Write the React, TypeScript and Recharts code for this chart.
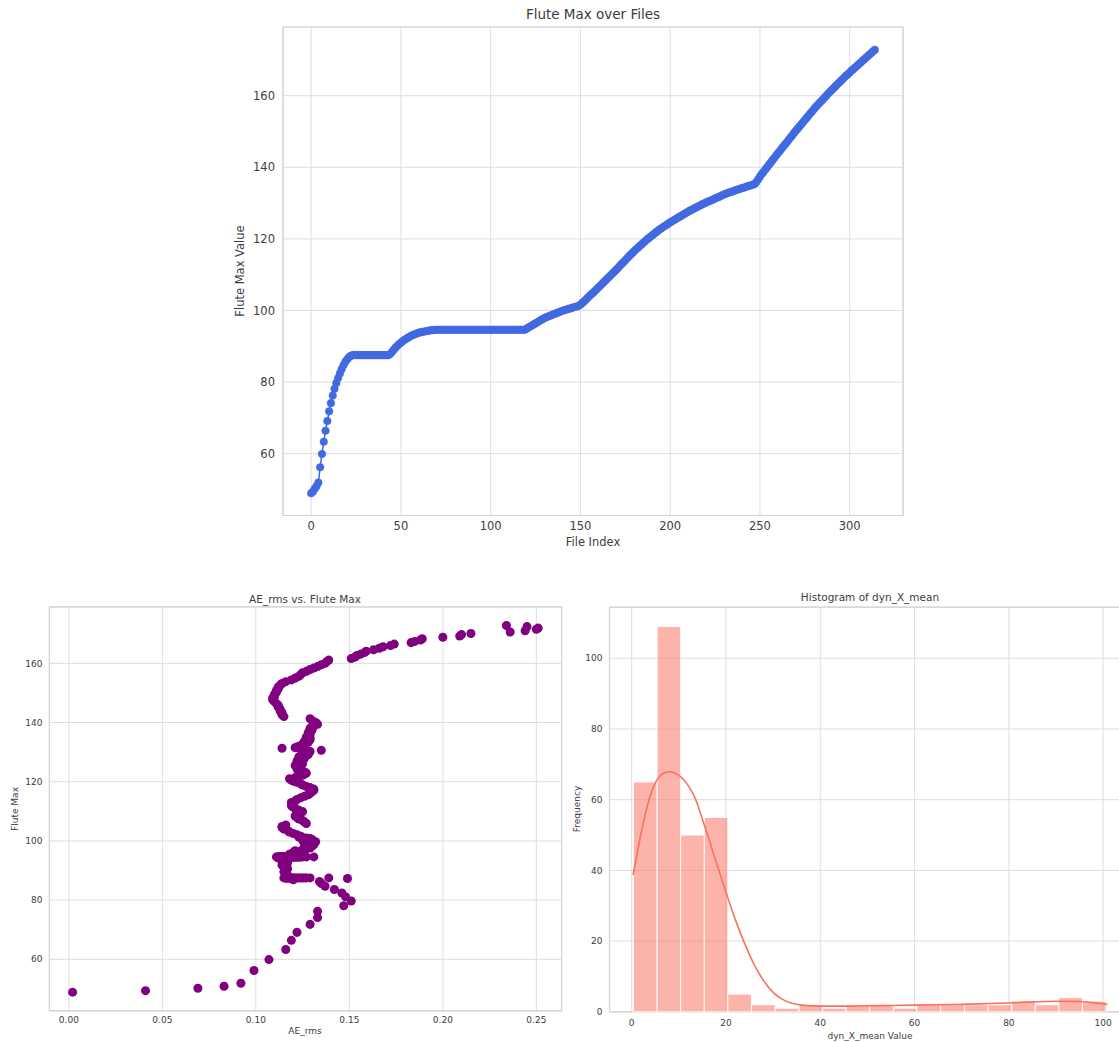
import React from 'react';
import {
  LineChart, Line, ScatterChart, Scatter, ComposedChart, XAxis, YAxis, ZAxis,
  CartesianGrid, ReferenceArea,
} from 'recharts';

// flute max per file, in file order (index 0..314)
const fluteMax = [
  48.9, 49.4, 50.2, 50.9, 51.9, 56.2, 59.9, 63.3, 66.4, 69.1,
  71.8, 74.1, 76.2, 78.1, 79.7, 81.1, 82.4, 83.6, 84.7, 85.6,
  86.3, 86.9, 87.3, 87.5, 87.5, 87.5, 87.5, 87.5, 87.5, 87.5,
  87.5, 87.5, 87.5, 87.5, 87.5, 87.5, 87.5, 87.5, 87.5, 87.5,
  87.5, 87.5, 87.5, 87.5, 87.8, 88.4, 89.0, 89.6, 90.1, 90.6,
  91.0, 91.4, 91.8, 92.1, 92.4, 92.7, 93.0, 93.2, 93.4, 93.6,
  93.8, 93.9, 94.0, 94.1, 94.2, 94.3, 94.4, 94.5, 94.5, 94.6,
  94.6, 94.6, 94.6, 94.6, 94.6, 94.6, 94.6, 94.6, 94.6, 94.6,
  94.6, 94.6, 94.6, 94.6, 94.6, 94.6, 94.6, 94.6, 94.6, 94.6,
  94.6, 94.6, 94.6, 94.6, 94.6, 94.6, 94.6, 94.6, 94.6, 94.6,
  94.6, 94.6, 94.6, 94.6, 94.6, 94.6, 94.6, 94.6, 94.6, 94.6,
  94.6, 94.6, 94.6, 94.6, 94.6, 94.6, 94.6, 94.6, 94.6, 94.6,
  94.9, 95.2, 95.5, 95.8, 96.1, 96.4, 96.7, 97.0, 97.3, 97.6,
  97.9, 98.1, 98.3, 98.5, 98.7, 98.9, 99.1, 99.3, 99.5, 99.7,
  99.9, 100.1, 100.2, 100.4, 100.5, 100.7, 100.8, 101.0, 101.1, 101.3,
  101.6, 102.1, 102.5, 103.0, 103.5, 104.0, 104.5, 104.9, 105.4, 105.9,
  106.4, 106.9, 107.4, 107.9, 108.4, 108.9, 109.4, 109.9, 110.4, 110.9,
  111.4, 111.9, 112.5, 113.0, 113.5, 114.0, 114.6, 115.1, 115.6, 116.1,
  116.6, 117.1, 117.5, 118.0, 118.4, 118.9, 119.3, 119.8, 120.2, 120.6,
  121.0, 121.4, 121.8, 122.2, 122.6, 122.9, 123.3, 123.6, 123.9, 124.3,
  124.6, 124.9, 125.2, 125.5, 125.8, 126.1, 126.4, 126.7, 127.0, 127.3,
  127.6, 127.9, 128.1, 128.4, 128.7, 128.9, 129.2, 129.4, 129.7, 129.9,
  130.2, 130.4, 130.6, 130.8, 131.0, 131.3, 131.5, 131.7, 131.9, 132.2,
  132.4, 132.6, 132.8, 133.0, 133.1, 133.3, 133.5, 133.7, 133.8, 134.0,
  134.2, 134.3, 134.5, 134.7, 134.8, 135.0, 135.1, 135.3, 135.9, 136.6,
  137.4, 138.1, 138.7, 139.4, 140.0, 140.7, 141.3, 142.0, 142.6, 143.3,
  143.9, 144.5, 145.2, 145.8, 146.4, 147.0, 147.7, 148.3, 148.9, 149.6,
  150.2, 150.8, 151.4, 152.0, 152.6, 153.2, 153.8, 154.4, 155.0, 155.6,
  156.2, 156.8, 157.3, 157.9, 158.4, 158.9, 159.5, 160.0, 160.6, 161.1,
  161.6, 162.1, 162.6, 163.1, 163.6, 164.1, 164.6, 165.1, 165.6, 166.0,
  166.5, 167.0, 167.4, 167.9, 168.3, 168.8, 169.2, 169.7, 170.1, 170.6,
  171.0, 171.5, 171.9, 172.4, 172.8,
];

// AE_rms for the same files, same order
const aeRms = [
  0.002, 0.041, 0.069, 0.083, 0.092, 0.099, 0.107, 0.116, 0.119, 0.122,
  0.129, 0.133, 0.133, 0.147, 0.151, 0.148, 0.146, 0.142, 0.137, 0.135,
  0.134, 0.120, 0.149, 0.139, 0.129, 0.127, 0.125, 0.123, 0.122, 0.121,
  0.120, 0.119, 0.118, 0.117, 0.116, 0.116, 0.117, 0.118, 0.119, 0.124,
  0.126, 0.116, 0.117, 0.115, 0.116, 0.117, 0.116, 0.115, 0.116, 0.117,
  0.116, 0.115, 0.114, 0.115, 0.116, 0.117, 0.116, 0.115, 0.114, 0.115,
  0.116, 0.115, 0.114, 0.113, 0.112, 0.113, 0.114, 0.115, 0.116, 0.117,
  0.111, 0.112, 0.113, 0.114, 0.115, 0.116, 0.117, 0.118, 0.119, 0.120,
  0.121, 0.122, 0.123, 0.124, 0.125, 0.127, 0.131, 0.112, 0.114, 0.116,
  0.118, 0.120, 0.122, 0.124, 0.113, 0.115, 0.117, 0.119, 0.121, 0.123,
  0.112, 0.114, 0.116, 0.118, 0.120, 0.122, 0.113, 0.115, 0.117, 0.119,
  0.121, 0.114, 0.116, 0.118, 0.120, 0.115, 0.117, 0.119, 0.116, 0.118,
  0.119, 0.121, 0.118, 0.122, 0.120, 0.123, 0.121, 0.125, 0.127, 0.129,
  0.126, 0.128, 0.130, 0.127, 0.131, 0.129, 0.126, 0.128, 0.130, 0.132,
  0.127, 0.129, 0.125, 0.128, 0.130, 0.126, 0.129, 0.127, 0.125, 0.123,
  0.124, 0.122, 0.120, 0.118, 0.117, 0.115, 0.114, 0.114, 0.116, 0.127,
  0.126, 0.125, 0.123, 0.122, 0.121, 0.123, 0.124, 0.125, 0.123, 0.121,
  0.120, 0.119, 0.120, 0.119, 0.121, 0.122, 0.124, 0.126, 0.128, 0.129,
  0.130, 0.131, 0.131, 0.129, 0.127, 0.125, 0.124, 0.122, 0.120, 0.119,
  0.118, 0.121, 0.123, 0.125, 0.126, 0.127, 0.126, 0.124, 0.123, 0.122,
  0.123, 0.124, 0.122, 0.121, 0.123, 0.125, 0.124, 0.123, 0.122, 0.124,
  0.125, 0.126, 0.124, 0.123, 0.125, 0.127, 0.128, 0.126, 0.125, 0.127,
  0.129, 0.128, 0.135, 0.126, 0.124, 0.114, 0.121, 0.122, 0.123, 0.124,
  0.125, 0.126, 0.125, 0.127, 0.126, 0.128, 0.127, 0.126, 0.128, 0.127,
  0.129, 0.128, 0.127, 0.128, 0.129, 0.128, 0.127, 0.128, 0.129, 0.128,
  0.130, 0.129, 0.131, 0.133, 0.132, 0.130, 0.129, 0.115, 0.114, 0.114,
  0.113, 0.113, 0.112, 0.112, 0.111, 0.110, 0.109, 0.109, 0.110, 0.110,
  0.111, 0.111, 0.112, 0.112, 0.113, 0.114, 0.116, 0.119, 0.121, 0.123,
  0.124, 0.125, 0.127, 0.129, 0.131, 0.133, 0.135, 0.137, 0.138, 0.139,
  0.151, 0.153, 0.154, 0.156, 0.158, 0.159, 0.163, 0.166, 0.168, 0.172,
  0.174, 0.183, 0.185, 0.188, 0.189, 0.200, 0.209, 0.210, 0.215, 0.236,
  0.244, 0.250, 0.251, 0.245, 0.234,
];

// histogram of dyn_X_mean
const binEdges = [
  0.35, 5.4, 10.4, 15.4, 20.4, 25.4, 30.4, 35.5, 40.5, 45.5, 50.5,
  55.5, 60.5, 65.5, 70.6, 75.6, 80.6, 85.6, 90.6, 95.6, 100.6,
];
const binCounts = [65, 109, 50, 55, 5, 2, 1, 2, 1, 2, 2, 1, 2, 2, 2, 2, 3, 2, 4, 3];

// kde curve (scaled to counts)
const kdeX = [
  0.3, 1.0, 2.0, 3.0, 4.0, 5.0, 6.0, 7.0, 8.3, 9.5, 10.5, 11.5, 12.5, 13.5,
  15.0, 16.5, 18.0, 20.0, 22.0, 24.0, 26.0, 28.0, 30.0, 32.0, 34.0, 36.0,
  40.0, 45.0, 50.0, 55.0, 60.0, 65.0, 70.0, 75.0, 80.0, 85.0, 90.0, 95.0, 98.0, 100.9,
];
const kdeY = [
  38.7, 43.5, 50.5, 56.5, 61.3, 64.7, 66.7, 67.6, 67.9, 67.3, 66.4, 64.9, 62.9, 60.3,
  54.5, 48.4, 42.0, 33.8, 26.0, 19.2, 13.3, 8.8, 5.5, 3.5, 2.4, 1.9,
  1.6, 1.6, 1.7, 1.8, 1.9, 2.0, 2.1, 2.3, 2.5, 2.8, 3.0, 2.9, 2.6, 2.1,
];

const fileTicks = [0, 50, 100, 150, 200, 250, 300];
const fluteTicks = [60, 80, 100, 120, 140, 160];
const rmsTicks = [0, 0.05, 0.1, 0.15, 0.2, 0.25];
const dynTicks = [0, 20, 40, 60, 80, 100];
const freqTicks = [0, 20, 40, 60, 80, 100];

const lineRows = fluteMax.map((v, i) => ({ idx: i, flute: v }));
const scatterRows = fluteMax.map((v, i) => ({ ae: aeRms[i], flute: v }));
const kdeRows = kdeX.map((x, i) => ({ x, y: kdeY[i] }));

const FONT = '"DejaVu Sans", sans-serif';
const TXT = '#3c3c3c';
const GRID = '#dedede';
const SPINE = '#d2d2d2';

const Txt: React.FC<{ x: number; y: number; size: number; rotate?: boolean; children: React.ReactNode }> = ({ x, y, size, rotate, children }) => (
  <div style={{
    position: 'absolute', left: x, top: y, fontSize: size, color: TXT, whiteSpace: 'nowrap',
    transform: `translate(-50%, -50%)${rotate ? ' rotate(-90deg)' : ''}`, lineHeight: 1,
  }}>{children}</div>
);

export default function App() {
  const topX: [number, number] = [-15.7, 329.7];
  const topY: [number, number] = [42.7, 179.2];
  const scX: [number, number] = [-0.0104, 0.2635];
  const scY: [number, number] = [42.6, 179.1];
  const hX: [number, number] = [-4.7, 105.9];
  const hY: [number, number] = [0, 114.45];

  return (
    <div style={{ position: 'fixed', left: 0, top: 0, width: 1119, height: 1042, overflow: 'hidden', background: '#fff', fontFamily: FONT }}>
      {/* top: line over files */}
      <div style={{ position: 'absolute', left: 0, top: 0 }}>
        <LineChart width={1119} height={560} data={lineRows} margin={{ top: 27, right: 216, bottom: 0, left: 223 }}>
          <CartesianGrid stroke={GRID} strokeWidth={1} />
          <XAxis dataKey="idx" type="number" domain={topX} ticks={fileTicks} allowDataOverflow
            tickLine={false} axisLine={false} tickSize={0} tickMargin={6} height={44.5}
            tick={{ fill: TXT, fontSize: 11.5, fontFamily: FONT }} />
          <YAxis type="number" domain={topY} ticks={fluteTicks} allowDataOverflow
            tickLine={false} axisLine={false} tickSize={0} tickMargin={8} width={60}
            tick={{ fill: TXT, fontSize: 11.5, fontFamily: FONT }} />
          <ReferenceArea x1={topX[0]} x2={topX[1]} y1={topY[0]} y2={topY[1]} fill="none" stroke={SPINE} strokeWidth={1.2} ifOverflow="visible" />
          <Line dataKey="flute" stroke="#4169E1" strokeWidth={1.5} isAnimationActive={false}
            dot={{ r: 3.8, fill: '#4169E1', stroke: '#4169E1', strokeWidth: 0.5 }} activeDot={false} />
        </LineChart>
      </div>
      <Txt x={593} y={15} size={13.5}>Flute Max over Files</Txt>
      <Txt x={593} y={543} size={11.5}>File Index</Txt>
      <Txt x={241} y={271} size={11.5} rotate>Flute Max Value</Txt>

      {/* bottom left: scatter */}
      <div style={{ position: 'absolute', left: 0, top: 580 }}>
        <ScatterChart width={570} height={462} margin={{ top: 26.8, right: 8.4, bottom: 0, left: 14.4 }}>
          <CartesianGrid stroke={GRID} strokeWidth={1} />
          <XAxis dataKey="ae" type="number" domain={scX} ticks={rmsTicks} allowDataOverflow
            tickFormatter={(v: number) => v.toFixed(2)}
            tickLine={false} axisLine={false} tickSize={0} tickMargin={6} height={31.2}
            tick={{ fill: TXT, fontSize: 9, fontFamily: FONT }} />
          <YAxis dataKey="flute" type="number" domain={scY} ticks={fluteTicks} allowDataOverflow
            tickLine={false} axisLine={false} tickSize={0} tickMargin={7} width={35}
            tick={{ fill: TXT, fontSize: 9, fontFamily: FONT }} />
          <ZAxis type="number" range={[33, 33]} />
          <ReferenceArea x1={scX[0]} x2={scX[1]} y1={scY[0]} y2={scY[1]} fill="none" stroke={SPINE} strokeWidth={1.2} ifOverflow="visible" />
          <Scatter data={scatterRows} fill="#800080" isAnimationActive={false} />
        </ScatterChart>
      </div>
      <Txt x={305} y={599} size={10.5}>AE_rms vs. Flute Max</Txt>
      <Txt x={305} y={1031} size={9}>AE_rms</Txt>
      <Txt x={15} y={809} size={9} rotate>Flute Max</Txt>

      {/* bottom right: histogram + kde */}
      <div style={{ position: 'absolute', left: 570, top: 580 }}>
        <ComposedChart width={580} height={462} data={kdeRows} margin={{ top: 27.2, right: 19, bottom: 0, left: 4.5 }}>
          <CartesianGrid stroke={GRID} strokeWidth={1} />
          <XAxis dataKey="x" type="number" domain={hX} ticks={dynTicks} allowDataOverflow
            tickLine={false} axisLine={false} tickSize={0} tickMargin={7.5} height={30.2}
            tick={{ fill: TXT, fontSize: 9, fontFamily: FONT }} />
          <YAxis type="number" domain={hY} ticks={freqTicks} allowDataOverflow
            tickLine={false} axisLine={false} tickSize={0} tickMargin={7} width={35}
            tick={{ fill: TXT, fontSize: 9, fontFamily: FONT }} />
          <ReferenceArea x1={hX[0]} x2={hX[1]} y1={hY[0]} y2={hY[1]} fill="none" stroke={SPINE} strokeWidth={1.2} ifOverflow="visible" />
          {binCounts.map((c, i) => (
            <ReferenceArea key={i} x1={binEdges[i]} x2={binEdges[i + 1]} y1={0} y2={c}
              fill="#FA8072" fillOpacity={0.6} stroke="#ffffff" strokeWidth={1} strokeOpacity={0.9} ifOverflow="visible" />
          ))}
          <Line dataKey="y" type="monotone" stroke="#F8735E" strokeWidth={1.6} dot={false} activeDot={false} isAnimationActive={false} />
        </ComposedChart>
      </div>
      <Txt x={870} y={597} size={10.5}>Histogram of dyn_X_mean</Txt>
      <Txt x={870} y={1036} size={9}>dyn_X_mean Value</Txt>
      <Txt x={577} y={809} size={9} rotate>Frequency</Txt>
    </div>
  );
}
